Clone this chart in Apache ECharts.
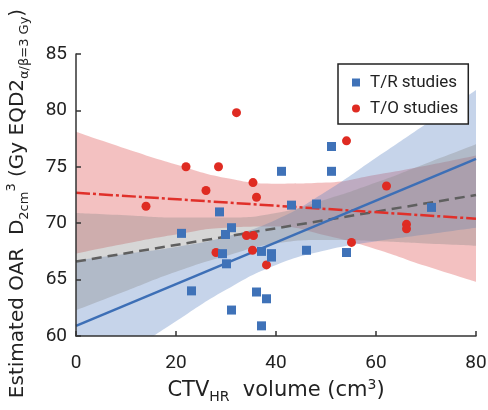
<!DOCTYPE html>
<html>
<head>
<meta charset="utf-8">
<script src="https://cdn.jsdelivr.net/npm/echarts@6/dist/echarts.min.js"></script>
<style>
  html, body { margin: 0; padding: 0; background: #fff; }
  #chart { width: 488px; height: 410px; }
</style>
</head>
<body>
<div id="chart"></div>
<script>
// T/R studies: CTV_HR volume (cm3) vs estimated OAR D2cm3
const trVolume = [21.1, 23.1, 28.7, 29.3, 29.9, 30.1, 31.1, 31.1, 36.1, 37.1, 37.1,
                  38.1, 39.1, 39.1, 41.1, 43.1, 46.1, 48.1, 51.1, 51.1, 54.1, 71.1];
const trDose   = [69.1, 64.0, 71.0, 67.3, 69.0, 66.4, 69.6, 62.3, 63.9, 67.5, 60.9,
                  63.3, 67.3, 67.0, 74.6, 71.6, 67.6, 71.7, 74.6, 76.8, 67.4, 71.4];

// T/O studies
const toVolume = [14.0, 22.0, 26.0, 28.0, 28.5, 32.1, 34.1, 35.4, 35.3, 35.5, 36.1,
                  38.1, 54.1, 55.1, 62.1, 66.1, 66.1];
const toDose   = [71.5, 75.0, 72.9, 67.4, 75.0, 79.8, 68.9, 73.6, 67.6, 68.9, 72.3,
                  66.3, 77.3, 68.3, 73.3, 69.9, 69.5];

// Regression lines (endpoints at the axis limits)
const fitX    = [0, 80];
const fitTR   = [60.9, 75.7];   // T/R studies
const fitTO   = [72.7, 70.4];   // T/O studies
const fitAll  = [66.6, 72.5];   // all studies

// Confidence bands sampled every 10 cm3 along the volume axis
const bandX     = [0, 10, 20, 30, 40, 50, 60, 70, 80];
const toUpper   = [78.1, 76.6, 75.2, 74.0, 73.5, 73.6, 74.3, 75.1, 76.0];
const toLower   = [67.3, 68.2, 69.0, 69.6, 69.7, 68.9, 67.7, 66.2, 64.8];
const trUpper   = [66.7, 67.3, 67.9, 68.8, 70.3, 72.8, 75.8, 78.8, 81.8];
const trLower   = [55.1, 58.3, 61.3, 64.1, 66.3, 67.6, 68.4, 69.0, 69.6];
const allUpper  = [70.9, 70.7, 70.5, 70.5, 70.9, 72.1, 73.6, 75.3, 77.0];
const allLower  = [62.3, 64.0, 65.7, 67.1, 68.2, 68.5, 68.4, 68.2, 68.0];

// Axis ticks
const xTicks = [0, 20, 40, 60, 80];
const yTicks = [60, 65, 70, 75, 80, 85];

const zip = (xs, ys) => xs.map((x, i) => [x, ys[i]]);

// A band = invisible lower line + stacked (upper - lower) area on top of it,
// drawn on a hidden category axis whose categories are the evenly spaced bandX.
function band(key, lower, upper, color) {
  return [
    {
      type: 'line', xAxisIndex: 1, stack: key, smooth: true, symbol: 'none', silent: true, z: 1,
      data: lower.slice(),
      lineStyle: { width: 0, opacity: 0 }
    },
    {
      type: 'line', xAxisIndex: 1, stack: key, smooth: true, symbol: 'none', silent: true, z: 1,
      data: upper.map((u, i) => +(u - lower[i]).toFixed(3)),
      lineStyle: { width: 0, opacity: 0 },
      areaStyle: { color: color, opacity: 1 }
    }
  ];
}

function fitLine(ys, color, width, type) {
  return {
    type: 'line', symbol: 'none', silent: true, z: 3,
    data: zip(fitX, ys),
    lineStyle: { color: color, width: width, type: type }
  };
}

const tickFont = 'Roboto, sans-serif';
const titleFont = '"DejaVu Sans", sans-serif';
function titleRich(size, small) {
  return {
    a:   { fontFamily: titleFont, fontSize: size,  color: '#222', lineHeight: 26, verticalAlign: 'middle' },
    sub: { fontFamily: titleFont, fontSize: small, color: '#222', lineHeight: 26, verticalAlign: 'bottom' },
    sup: { fontFamily: titleFont, fontSize: small, color: '#222', lineHeight: 26, verticalAlign: 'top' }
  };
}

const option = {
  animation: false,
  backgroundColor: '#fff',
  grid: { left: 76, right: 12, top: 54, bottom: 74, containLabel: false, outerBoundsMode: 'none' },
  legend: {
    orient: 'vertical',
    left: 338, top: 64,
    padding: [10, 10, 7, 14],
    itemGap: 9,
    itemWidth: 8, itemHeight: 8,
    backgroundColor: '#fff',
    borderColor: '#222', borderWidth: 1.5, borderRadius: 0,
    textStyle: { fontFamily: tickFont, fontSize: 17, color: '#222', padding: [0, 0, 0, 5] },
    data: [
      { name: 'T/R studies', icon: 'rect' },
      { name: 'T/O studies', icon: 'circle' }
    ]
  },
  xAxis: [
    {
      type: 'value', min: xTicks[0], max: xTicks[xTicks.length - 1], interval: 20,
      axisLine: { show: true, lineStyle: { color: '#333', width: 1.5 } },
      axisTick: { show: true, inside: true, length: 5, lineStyle: { color: '#333', width: 1.5 } },
      splitLine: { show: false },
      axisLabel: { fontFamily: tickFont, fontSize: 19, color: '#222', margin: 18 },
      name: '{a|CTV}{sub|HR}{a|  volume (cm}{sup|3}{a|)}',
      nameLocation: 'middle', nameGap: 38,
      nameTextStyle: { rich: titleRich(21, 14) },
      z: 10
    },
    {
      type: 'category', data: bandX, boundaryGap: false, show: false
    }
  ],
  yAxis: {
    type: 'value', min: yTicks[0], max: yTicks[yTicks.length - 1], interval: 5,
    axisLine: { show: true, lineStyle: { color: '#333', width: 1.5 } },
    axisTick: { show: true, inside: true, length: 5, lineStyle: { color: '#333', width: 1.5 } },
    splitLine: { show: false },
    axisLabel: { fontFamily: tickFont, fontSize: 19, color: '#222', margin: 9 },
    name: '{a|Estimated OAR  D}{sub|2cm}{sup|3}{a| (Gy EQD2}{sub|α/β=3 Gy}{a|)}',
    nameLocation: 'middle', nameGap: 45, nameRotate: 90,
    nameTextStyle: { rich: titleRich(20, 13), padding: [0, 17, 0, 0] },
    z: 10
  },
  series: [
    ...band('to',  toLower,  toUpper,  'rgba(221, 78, 78, 0.35)'),
    ...band('tr',  trLower,  trUpper,  'rgba(92, 132, 195, 0.35)'),
    ...band('all', allLower, allUpper, 'rgba(137, 137, 137, 0.35)'),
    fitLine(fitAll, '#5f5f5f', 2.5, [10, 6]),
    fitLine(fitTO,  '#e0302a', 2.5, [14, 3, 3, 3]),
    fitLine(fitTR,  '#3d6fb6', 2.5, 'solid'),
    {
      name: 'T/O studies', type: 'scatter', symbol: 'circle', symbolSize: 9, z: 4,
      data: zip(toVolume, toDose),
      itemStyle: { color: '#df2b22', opacity: 1 }
    },
    {
      name: 'T/R studies', type: 'scatter', symbol: 'rect', symbolSize: 9, z: 5,
      data: zip(trVolume, trDose),
      itemStyle: { color: '#3f72b8', opacity: 1 }
    }
  ]
};

const chart = echarts.init(document.getElementById('chart'), null, { renderer: 'canvas' });
chart.setOption(option);
</script>
</body>
</html>
